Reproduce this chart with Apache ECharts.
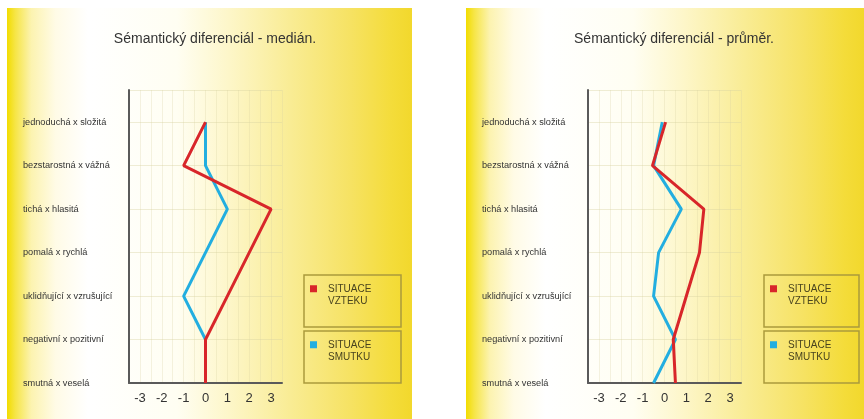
<!DOCTYPE html>
<html>
<head>
<meta charset="utf-8">
<style>
  html, body { margin: 0; padding: 0; background: #ffffff; }
  #chart { width: 864px; height: 419px; }
</style>
<script src="https://cdn.jsdelivr.net/npm/echarts@6/dist/echarts.min.js"></script>
</head>
<body>
<div id="chart"></div>
<script>
// Bipolar adjective pairs, listed from top to bottom of the scale
const categories = [
  'jednoduchá x složitá',
  'bezstarostná x vážná',
  'tichá x hlasitá',
  'pomalá x rychlá',
  'uklidňující x vzrušující',
  'negativní x pozitivní',
  'smutná x veselá'
];

// Scale ticks shown under each panel
const scaleTicks = [-3, -2, -1, 0, 1, 2, 3];

// Median ratings
const medianAnger = [0, -1, 3, 2, 1, 0, 0];
const medianSadness = [0, 0, 1, 0, -1, 0, 0];

// Mean ratings
const meanAnger = [0.05, -0.55, 1.8, 1.6, 1.0, 0.4, 0.5];
const meanSadness = [-0.1, -0.5, 0.77, -0.27, -0.5, 0.5, -0.5];

const seriesNames = ['SITUACE VZTEKU', 'SITUACE SMUTKU'];
const titles = ['Sémantický diferenciál - medián.', 'Sémantický diferenciál - průměr.'];

const RED = '#d8262a';
const BLUE = '#23aee0';
const FONT = '"Liberation Sans", Arial, sans-serif';
const TOP_INDEX = categories.length - 1;

// [value, position] pairs: the first pair sits at the top of the axis
function toPoints(values) {
  return values.map((v, k) => [v, TOP_INDEX - k]);
}

const chart = echarts.init(document.getElementById('chart'), null, { renderer: 'canvas' });

const panelFill = {
  type: 'linear', x: 0, y: 0, x2: 1, y2: 0,
  colorStops: [
    { offset: 0.0, color: '#f2dc00' },
    { offset: 0.02, color: '#f6e545' },
    { offset: 0.06, color: '#fcf3b0' },
    { offset: 0.12, color: '#fffbe6' },
    { offset: 0.2, color: '#ffffff' },
    { offset: 0.42, color: '#fffef2' },
    { offset: 0.55, color: '#fdf6c8' },
    { offset: 0.7, color: '#f9ec94' },
    { offset: 0.85, color: '#f6e262' },
    { offset: 0.95, color: '#f4dc3a' },
    { offset: 1.0, color: '#f2d82c' }
  ]
};

const panels = [
  { x: 7, w: 405, gridLeft: 129, labelX: 23, titleX: 210, boxX: 304, boxW: 97 },
  { x: 466, w: 398, gridLeft: 588, labelX: 482, titleX: 669, boxX: 764, boxW: 95 }
];

const graphics = [];
panels.forEach(p => {
  graphics.push({
    type: 'rect', z: -10, silent: true,
    shape: { x: p.x, y: 8, width: p.w, height: 411 },
    style: { fill: panelFill }
  });
  [275, 331].forEach(top => {
    graphics.push({
      type: 'rect', z: -5, silent: true,
      shape: { x: p.boxX, y: top, width: p.boxW, height: 52 },
      style: { fill: 'rgba(0,0,0,0)', stroke: '#ab9a3c', lineWidth: 1.5 }
    });
  });
});

const grids = panels.map(p => ({ left: p.gridLeft, top: 90, width: 153, height: 293 }));

const xAxes = panels.map((p, i) => ({
  type: 'value', gridIndex: i, min: -3.5, max: 3.5, interval: 0.5,
  axisLine: { show: true, onZero: false, lineStyle: { color: '#5a5a5a', width: 2 } },
  axisTick: { show: false },
  axisLabel: {
    margin: 9, fontSize: 13, color: '#333', fontFamily: FONT,
    formatter: v => (scaleTicks.indexOf(v) >= 0 ? String(v) : '')
  },
  splitLine: { show: true, lineStyle: { color: 'rgba(215,210,160,0.28)', width: 1 } }
}));

const yAxes = panels.map((p, i) => ({
  type: 'value', gridIndex: i, min: 0, max: 6.74, interval: 1,
  axisLine: { show: true, onZero: false, lineStyle: { color: '#5a5a5a', width: 2 } },
  axisTick: { show: false },
  axisLabel: {
    margin: p.gridLeft - p.labelX, align: 'left', fontSize: 9.2, color: '#333', fontFamily: FONT,
    formatter: v => (Number.isInteger(v) && v >= 0 && v <= TOP_INDEX ? categories[TOP_INDEX - v] : '')
  },
  splitLine: { show: true, lineStyle: { color: 'rgba(215,210,160,0.4)', width: 1 } }
}));

function lineSeries(name, values, color, idx) {
  return {
    name: name, type: 'line', xAxisIndex: idx, yAxisIndex: idx,
    data: toPoints(values),
    symbol: 'none', smooth: false,
    lineStyle: { color: color, width: 3 },
    itemStyle: { color: color },
    emphasis: { disabled: true }
  };
}

const series = [
  lineSeries(seriesNames[1], medianSadness, BLUE, 0),
  lineSeries(seriesNames[0], medianAnger, RED, 0),
  lineSeries(seriesNames[1], meanSadness, BLUE, 1),
  lineSeries(seriesNames[0], meanAnger, RED, 1)
];

// Each legend entry sits in its own framed box; the label's first line
// is kept level with the colour swatch by a blank leading line.
const legends = [];
panels.forEach(p => {
  seriesNames.forEach((name, j) => {
    legends.push({
      data: [name],
      left: p.boxX + 6,
      top: 270 + j * 56,
      orient: 'vertical',
      padding: 0,
      icon: 'rect',
      itemWidth: 7, itemHeight: 7,
      selectedMode: false,
      formatter: n => '\n' + n.replace(' ', '\n'),
      textStyle: {
        fontSize: 10, lineHeight: 12.5, color: '#48431e', fontFamily: FONT,
        padding: [0, 0, 0, 6]
      }
    });
  });
});

chart.setOption({
  animation: false,
  backgroundColor: '#ffffff',
  title: panels.map((p, i) => ({
    text: titles[i], left: p.titleX, top: 27, textAlign: 'center',
    textStyle: { fontSize: 14, fontWeight: 'normal', color: '#333', fontFamily: FONT }
  })),
  graphic: graphics,
  grid: grids,
  xAxis: xAxes,
  yAxis: yAxes,
  legend: legends,
  series: series
});
</script>
</body>
</html>
